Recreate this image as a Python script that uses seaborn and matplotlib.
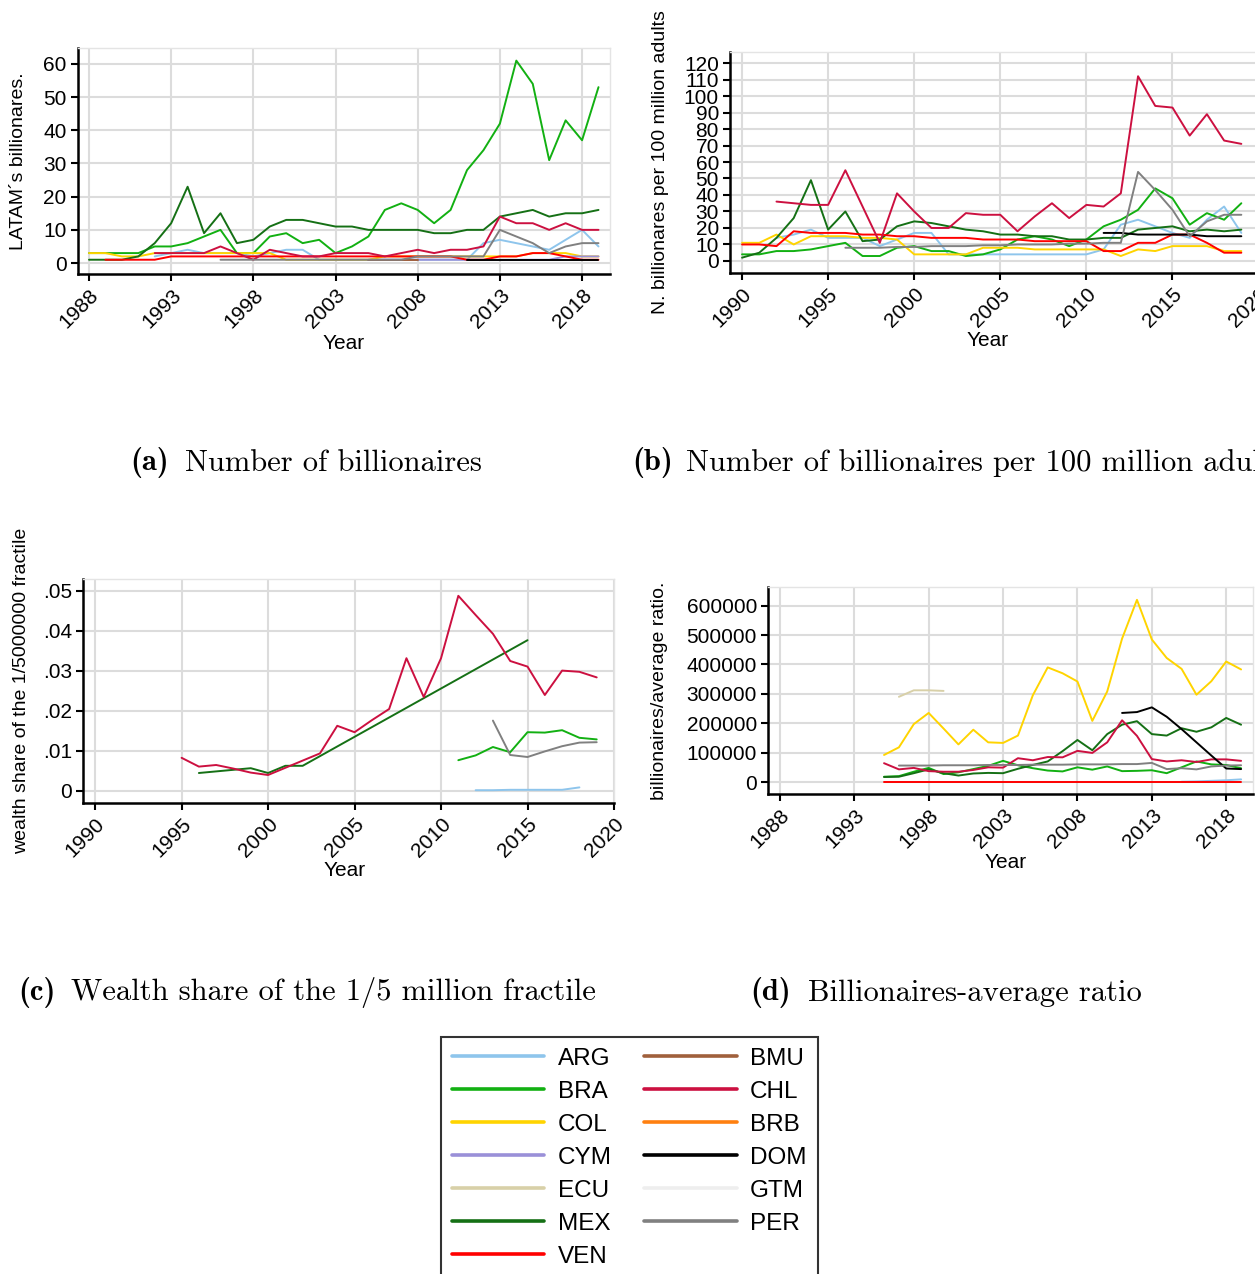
import numpy as np
import pandas as pd
import seaborn as sns
import matplotlib.pyplot as plt
from matplotlib.lines import Line2D

# -------------------------------
# Data
# -------------------------------
nan = np.nan
countries = ["ARG", "BRA", "COL", "CYM", "ECU", "MEX", "VEN",
             "BMU", "CHL", "BRB", "DOM", "GTM", "PER"]
colors = ["#8ec5ec", "#12b012", "#ffd400", "#9a90d8", "#d8d0a8", "#157015", "#ff0000",
          "#a0603c", "#cc1040", "#ff8010", "#000000", "#eeeeee", "#808080"]
palette = dict(zip(countries, colors))

# (a) number of billionaires, 1988-2019
years_a = list(range(1988, 2020))
num_bill = {
    "ARG": [nan, nan, nan, nan, 2, 3, 4, 3, 3, 3, 2, 3, 4, 4, 1, 1, 1, 1, 1, 1, 1, 1,
            1, 1, 6, 7, 6, 5, 4, 7, 10, 5],
    "BRA": [3, 3, 3, 3, 5, 5, 6, 8, 10, 3, 3, 8, 9, 6, 7, 3, 5, 8, 16, 18, 16, 12,
            16, 28, 34, 42, 61, 54, 31, 43, 37, 53],
    "COL": [3, 3, 2, 2, 3, 3, 3, 3, 3, 3, 3, 3, 1, 1, 1, 1, 1, 1, 2, 2, 2, 2,
            2, 2, 2, 2, 2, 3, 3, 3, 2, 2],
    "CYM": [nan] * 17 + [1, 1, 1, 1, 1, 1, 1, 1, 1, 1, 1, 1, 2, 2, 2],
    "MEX": [1, 1, 1, 2, 6, 12, 23, 9, 15, 6, 7, 11, 13, 13, 12, 11, 11, 10, 10, 10, 10, 9,
            9, 10, 10, 14, 15, 16, 14, 15, 15, 16],
    "VEN": [nan, 1, 1, 1, 1, 2, 2, 2, 2, 2, 2, 2, 2, 2, 2, 2, 2, 2, 2, 2, 2, 2,
            2, 1, 1, 2, 2, 3, 3, 2, 1, 1],
    "BMU": [nan] * 17 + [1, 1, 1, 1] + [nan] * 11,
    "CHL": [nan, nan, nan, nan, 3, 3, 3, 3, 5, 3, 1, 4, 3, 2, 2, 3, 3, 3, 2, 3, 4, 3,
            4, 4, 5, 14, 12, 12, 10, 12, 10, 10],
    "DOM": [nan] * 23 + [1, 1, 1, 1, 1, 1, 1, 1, 1],
    "PER": [nan] * 8 + [1, 1, 1, 1, 1, 1, 1, 1, 1, 1, 1, 1, 2, 2,
                        2, 2, 2, 10, 8, 6, 3, 5, 6, 6],
}

# (b) billionaires per 100 million adults, 1990-2019
years_b = list(range(1990, 2020))
per_adults = {
    "ARG": [nan, nan, 14, 16, 19, 14, 14, 14, 9, 13, 17, 17, 4, 4, 4, 4, 4, 4, 4, 4,
            4, 7, 22, 25, 21, 17, 14, 25, 33, 17],
    "BRA": [4, 4, 6, 6, 7, 9, 11, 3, 3, 8, 9, 6, 6, 3, 4, 7, 13, 15, 13, 9,
            13, 21, 25, 31, 44, 38, 22, 29, 25, 35],
    "COL": [11, 11, 16, 10, 15, 15, 15, 14, 14, 13, 4, 4, 4, 4, 8, 8, 8, 7, 7, 7,
            7, 7, 3, 7, 6, 9, 9, 9, 6, 6],
    "MEX": [2, 5, 14, 26, 49, 19, 30, 12, 13, 21, 24, 23, 21, 19, 18, 16, 16, 15, 15, 13,
            13, 14, 14, 19, 20, 21, 18, 19, 18, 19],
    "VEN": [10, 10, 9, 18, 17, 17, 17, 16, 16, 15, 15, 14, 14, 14, 13, 13, 13, 12, 12, 12,
            12, 6, 6, 11, 11, 16, 16, 11, 5, 5],
    "CHL": [nan, nan, 36, 35, 34, 34, 55, 33, 11, 41, 30, 20, 20, 29, 28, 28, 18, 27, 35, 26,
            34, 33, 41, 112, 94, 93, 76, 89, 73, 71],
    "DOM": [nan] * 21 + [17, 17, 16, 16, 16, 16, 15, 15, 15],
    "PER": [nan] * 6 + [8, 8, 8, 8.5, 8.5, 9, 9, 9, 9.5, 9.5, 10, 10, 10, 10.5,
                        10.5, 11, 11, 54, 43, 31, 15, 24, 28, 28],
}

# (c) wealth share of the 1/5000000 fractile, 1995-2019
years_c = list(range(1995, 2020))
wealth_share = {
    "ARG": [nan] * 17 + [.0002, .0002, .0003, .0003, .0003, .0003, .0009, nan],
    "BRA": [nan] * 16 + [.0077, .0089, .0110, .0097, .0147, .0146, .0152, .0133, .0129],
    "MEX": [nan, .0045, .0049, .0053, .0057, .0045, .0063, .0063] + [nan] * 12
           + [.0377, nan, nan, nan, nan],
    "CHL": [.0083, .0061, .0065, .0056, .0046, .0040, .0058, .0076, .0094, .0163,
            .0147, .0177, .0205, .0332, .0235, .0332, .0488, .0440, .0393, .0325,
            .0311, .0240, .0301, .0298, .0284],
    "PER": [nan] * 18 + [.0176, .0090, .0085, .0099, .0112, .0121, .0122],
}

# (d) billionaires / average ratio, 1995-2019
years_d = list(range(1995, 2020))
avg_ratio = {
    "ARG": [nan] * 20 + [1000, 2000, 4000, 6000, 9000],
    "BRA": [18000, 20000, 35000, 48000, 27000, 33000, 44000, 55000, 72000, 57000,
            47000, 39000, 36000, 50000, 42000, 53000, 37000, 38000, 40000, 30000,
            50000, 70000, 60000, 58000, 47000],
    "COL": [92000, 118000, 197000, 235000, 182000, 128000, 178000, 135000, 133000, 158000,
            295000, 390000, 370000, 342000, 208000, 308000, 488000, 620000, 485000, 422000,
            385000, 297000, 343000, 410000, 383000],
    "ECU": [nan, 290000, 312000, 312000, 310000] + [nan] * 20,
    "MEX": [17000, 18000, 30000, 43000, 30000, 22000, 29000, 31000, 30000, 45000,
            58000, 70000, 105000, 143000, 108000, 163000, 195000, 207000, 163000, 158000,
            183000, 171000, 186000, 218000, 195000],
    "VEN": [1000] * 25,
    "CHL": [64000, 43000, 48000, 37000, 35000, 35000, 41000, 50000, 49000, 81000,
            74000, 85000, 84000, 106000, 99000, 135000, 210000, 157000, 78000, 70000,
            74000, 68000, 77000, 77000, 72000],
    "DOM": [nan] * 16 + [235000, 238000, 254000, 222000, 180000, 135000, 90000, 46000, 44000],
    "PER": [nan, 56000, 56000, 56000, 57000, 57000, 57000, 58000, 58000, 58000,
            59000, 59000, 59000, 60000, 60000, 60000, 61000, 61000, 65000, 44000,
            47000, 43000, 53000, 56000, 57000],
}


def to_long(years, series):
    rows = []
    for c, vals in series.items():
        for y, v in zip(years, vals):
            if not np.isnan(v):
                rows.append((c, y, v))
    return pd.DataFrame(rows, columns=["country", "year", "value"])


# -------------------------------
# Figure
# -------------------------------
sns.set_style("white")
plt.rcParams["font.family"] = ["Liberation Sans", "DejaVu Sans"]
plt.rcParams["text.color"] = "black"
plt.rcParams["axes.labelcolor"] = "black"
plt.rcParams["xtick.color"] = "black"
plt.rcParams["ytick.color"] = "black"

W, H = 1255, 1274
fig = plt.figure(figsize=(W / 100, H / 100), dpi=100)


def px_axes(x0, x1, y0, y1):
    return fig.add_axes([x0 / W, 1 - y1 / H, (x1 - x0) / W, (y1 - y0) / H])


def draw(ax, years, series, xlim, ylim, xticks, yticks, yticklabels, ylabel,
         ylab_x, xlab_x, xlab_y):
    df = to_long(years, series)
    order = [c for c in countries if c in series]
    sns.lineplot(data=df, x="year", y="value", hue="country", hue_order=order,
                 palette=palette, estimator=None, sort=True, legend=False,
                 linewidth=1.4, ax=ax)
    ax.set_xlim(*xlim)
    ax.set_ylim(*ylim)
    ax.set_xticks(xticks)
    ax.set_xticklabels([str(t) for t in xticks], rotation=45, ha="right",
                       va="top", rotation_mode="anchor")
    ax.set_yticks(yticks)
    ax.set_yticklabels(yticklabels)
    ax.grid(True, color="#dcdcdc", linewidth=1.5)
    ax.set_axisbelow(True)
    for s in ["top", "right"]:
        ax.spines[s].set_color("#e4e4e4")
        ax.spines[s].set_linewidth(1.0)
    for s in ["left", "bottom"]:
        ax.spines[s].set_color("black")
        ax.spines[s].set_linewidth(1.8)
    ax.tick_params(axis="both", direction="out", length=5, width=1.5,
                   color="black", labelcolor="black", labelsize=15, pad=3,
                   bottom=True, left=True)
    ax.set_ylabel(ylabel, fontsize=14, color="black")
    ax.set_xlabel("Year", fontsize=15, color="black")
    ax.yaxis.set_label_coords(ylab_x, 0.5)
    ax.xaxis.set_label_coords(xlab_x, xlab_y)


ax_a = px_axes(77.5, 610, 48, 274)
draw(ax_a, years_a, num_bill, (1987.3, 2019.7), (-3.3, 64.8),
     list(range(1988, 2019, 5)), [0, 10, 20, 30, 40, 50, 60],
     ["0", "10", "20", "30", "40", "50", "60"], "LATAM\u00b4s billionares.",
     -0.095, 0.5, -0.265)

ax_b = px_axes(730, 1262, 52, 273)
draw(ax_b, years_b, per_adults, (1989.3, 2020.2), (-7.3, 126.7),
     list(range(1990, 2021, 5)), list(range(0, 121, 10)),
     [str(v) for v in range(0, 121, 10)], "N. billionares per 100 million adults",
     -0.115, 0.485, -0.262)

ax_c = px_axes(83, 614, 579, 803)
draw(ax_c, years_c, wealth_share, (1989.3, 2020.0), (-0.003, 0.053),
     list(range(1990, 2021, 5)), [0, .01, .02, .03, .04, .05],
     ["0", ".01", ".02", ".03", ".04", ".05"], "wealth share of the 1/5000000 fractile",
     -0.1, 0.493, -0.259)

ax_d = px_axes(768, 1253, 587, 794)
draw(ax_d, years_d, avg_ratio, (1987.2, 2019.8), (-40800, 663600),
     list(range(1988, 2019, 5)), list(range(0, 600001, 100000)),
     [str(v) for v in range(0, 600001, 100000)], "billionaires/average ratio.",
     -0.206, 0.49, -0.285)

# -------------------------------
# Sub-captions
# -------------------------------
caps = [
    (130, 185, 463, "(a)", "Number of billionaires"),
    (632, 686, 463, "(b)", "Number of billionaires per 100 million adults"),
    (18, 71, 993, "(c)", "Wealth share of the 1/5 million fractile"),
    (750, 808, 993, "(d)", "Billionaires-average ratio"),
]
for xb, xt, y, lab, txt in caps:
    fig.text(xb / W, 1 - y / H, lab, family="cmb10", fontsize=22, va="center",
             ha="left", color="black")
    fig.text(xt / W, 1 - y / H, txt, family="cmr10", fontsize=22, va="center",
             ha="left", color="black")

# -------------------------------
# Legend
# -------------------------------
handles = [Line2D([0], [0], color=palette[c], lw=2.6) for c in countries]
leg = fig.legend(handles, countries, ncol=2, loc="upper left",
                 bbox_to_anchor=(441 / W, 1 - 1037 / H), borderaxespad=0,
                 frameon=True, fancybox=False, edgecolor="black", fontsize=17.5,
                 handlelength=3.8, handletextpad=0.55, columnspacing=1.35,
                 borderpad=0.45, labelspacing=0.45, labelcolor="black")
leg.get_frame().set_linewidth(1.5)

fig.savefig("out.png", dpi=100)
